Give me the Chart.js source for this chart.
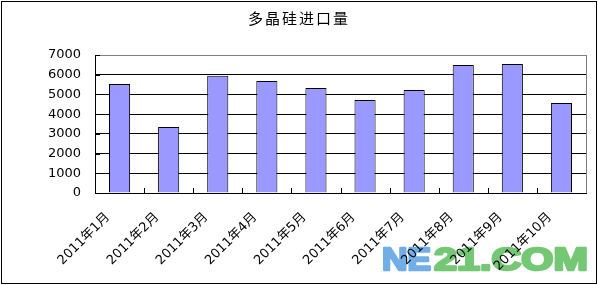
<!DOCTYPE html>
<html>
<head>
<meta charset="utf-8">
<script src="https://cdn.jsdelivr.net/npm/chart.js@4/dist/chart.umd.min.js"></script>
<style>
    html, body { margin: 0; padding: 0; background: #fff; }
    #wrap { width: 598px; height: 285px; }
</style>
</head>
<body>
<div id="wrap"><canvas id="import-chart" width="598" height="285"></canvas></div>
<script>
const months = ['2011年1月', '2011年2月', '2011年3月', '2011年4月', '2011年5月',
    '2011年6月', '2011年7月', '2011年8月', '2011年9月', '2011年10月']
const imports = [5530, 3350, 5950, 5680, 5330, 4720, 5230, 6490, 6540, 4570]
const yTicks = [0, 1000, 2000, 3000, 4000, 5000, 6000, 7000]

const titleText = '多晶硅进口量'
const fontFamily = '"DejaVu Sans", "Noto Sans CJK SC", sans-serif'

// stretched watermark text, width fitted to the original
const stamp = (ctx, text, x, width, color) => {
    ctx.save()
    ctx.fillStyle = ctx.strokeStyle = color
    const sx = width / ctx.measureText(text).width
    ctx.translate(x, 270)
    ctx.scale(sx, 1)
    ctx.fillText(text, 0, 0)
    ctx.strokeText(text, 0, 0)
    ctx.restore()
}

// title, frame, inner tick marks and the watermark
const decorations = {
    id: 'decorations',
    beforeDraw(chart) {
        const ctx = chart.ctx
        ctx.save()
        ctx.fillStyle = '#fff'
        ctx.fillRect(0, 0, chart.width, chart.height)

        // watermark sits under the axis labels
        ctx.font = 'bold 32px "Liberation Sans", Arial, sans-serif'
        ctx.textBaseline = 'alphabetic'
        ctx.lineJoin = 'round'
        ctx.lineWidth = 2.5
        stamp(ctx, 'NE', 382, 49, '#72aee6')
        stamp(ctx, '21.COM', 434, 154, '#74c874')
        ctx.restore()

        ctx.save()
        ctx.font = '15px "Noto Sans CJK SC", sans-serif'
        ctx.letterSpacing = '2px'
        ctx.fillStyle = '#000'
        ctx.textAlign = 'center'
        ctx.textBaseline = 'middle'
        ctx.fillText(titleText, 299, 18)
        ctx.restore()
    },
    afterDraw(chart) {
        const ctx = chart.ctx
        const area = chart.chartArea
        const x = chart.scales.x
        const y = chart.scales.y
        ctx.save()
        ctx.lineWidth = 1
        ctx.strokeStyle = '#808080'
        ctx.beginPath()
        ctx.moveTo(Math.round(area.right) + 0.5, area.top)
        ctx.lineTo(Math.round(area.right) + 0.5, area.bottom)
        ctx.stroke()

        ctx.strokeStyle = '#000'
        ctx.beginPath()
        const step = (x.getPixelForValue(1) - x.getPixelForValue(0))
        for (let i = 1; i < months.length; i++) {
            const px = Math.round(x.getPixelForValue(i) - step / 2) + 0.5
            ctx.moveTo(px, area.bottom)
            ctx.lineTo(px, area.bottom - 5)
        }
        yTicks.forEach(v => {
            const py = Math.round(y.getPixelForValue(v)) + 0.5
            ctx.moveTo(area.left, py)
            ctx.lineTo(area.left + 5, py)
        })
        ctx.stroke()

        ctx.strokeRect(1.5, 1.5, 595, 282)
        ctx.restore()
    }
}

const import_chart = () => {
    const ctx = document.getElementById('import-chart')

    new Chart(ctx, {
        type: 'bar',
        data: {
            labels: months,
            datasets: [{
                label: '进口量',
                data: imports,
                backgroundColor: '#9999ff',
                borderColor: '#000',
                borderWidth: 1,
                categoryPercentage: 1,
                barPercentage: 0.43,
            }],
        },
        options: {
            responsive: false,
            animation: false,
            layout: {
                padding: { top: 55, right: 12, left: 0, bottom: 0 },
            },
            plugins: {
                legend: { display: false },
                title: { display: false },
                tooltip: { enabled: false },
            },
            scales: {
                x: {
                    grid: { display: false, drawTicks: false },
                    border: { color: '#000', width: 1 },
                    ticks: {
                        color: '#000',
                        font: { family: fontFamily, size: 13 },
                        minRotation: 45,
                        maxRotation: 45,
                        padding: 5,
                        autoSkip: false,
                        // trailing spaces slide the rotated label down-left like the original
                        callback(value) { return months[value] + '\u00a0\u00a0\u00a0\u00a0' },
                    },
                    afterFit(scale) { scale.height = 92 },
                },
                y: {
                    min: 0,
                    max: 7000,
                    afterBuildTicks(scale) { scale.ticks = yTicks.map(v => ({ value: v })) },
                    grid: {
                        drawTicks: false,
                        color: c => (c.tick && c.tick.value === 7000 ? '#808080' : '#000'),
                    },
                    border: { color: '#000', width: 1 },
                    ticks: {
                        color: '#000',
                        font: { family: fontFamily, size: 13 },
                        padding: 14,
                        callback: v => String(v),
                    },
                    afterFit(scale) { scale.width = 95 },
                },
            },
        },
        plugins: [decorations],
    })
}

import_chart()
</script>
</body>
</html>
